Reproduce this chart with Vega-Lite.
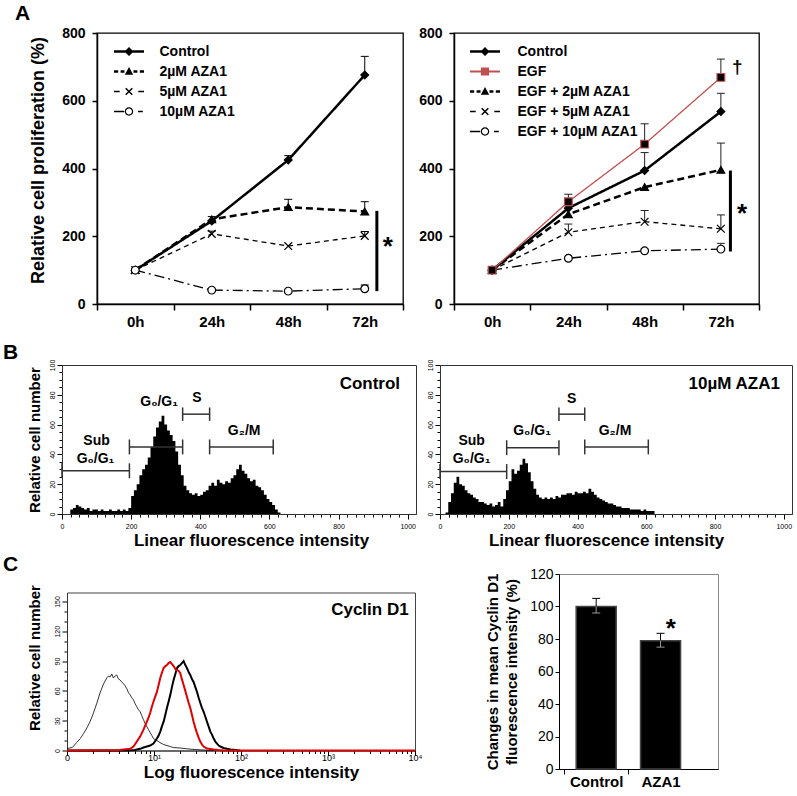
{
"$schema": "https://vega.github.io/schema/vega-lite/v6.json",
"background": "white",
"padding": {"left": 0, "top": 2, "right": 0, "bottom": 0},
"spacing": 0,
"bounds": "full",
"config": {
  "font": "Liberation Sans",
  "view": {"stroke": "#000", "strokeWidth": 1},
  "axis": {"grid": false, "domainColor": "#000", "tickColor": "#000", "labelColor": "#000", "titleColor": "#000", "labelFont": "Liberation Sans", "titleFont": "Liberation Sans", "labelOverlap": false, "labelFlush": false},
  "title": {"font": "Liberation Sans", "color": "#000"},
  "text": {"font": "Liberation Sans", "color": "#000"}
},
"datasets": {
  "al": [
    {"s":"Control","h":0,"v":100,"hi":100},{"s":"Control","h":24,"v":245,"hi":258},{"s":"Control","h":48,"v":425,"hi":438},{"s":"Control","h":72,"v":676,"hi":731},
    {"s":"2µM AZA1","h":0,"v":100,"hi":100},{"s":"2µM AZA1","h":24,"v":250,"hi":250},{"s":"2µM AZA1","h":48,"v":286,"hi":309},{"s":"2µM AZA1","h":72,"v":273,"hi":302},
    {"s":"5µM AZA1","h":0,"v":100,"hi":100},{"s":"5µM AZA1","h":24,"v":207,"hi":215},{"s":"5µM AZA1","h":48,"v":171,"hi":171},{"s":"5µM AZA1","h":72,"v":201,"hi":214},
    {"s":"10µM AZA1","h":0,"v":100,"hi":100},{"s":"10µM AZA1","h":24,"v":41,"hi":41},{"s":"10µM AZA1","h":48,"v":38,"hi":38},{"s":"10µM AZA1","h":72,"v":45,"hi":56}
  ],
  "ar": [
    {"s":"Control","h":0,"v":100,"hi":100},{"s":"Control","h":24,"v":283,"hi":290},{"s":"Control","h":48,"v":394,"hi":447},{"s":"Control","h":72,"v":568,"hi":622},
    {"s":"EGF + 2µM AZA1","h":0,"v":100,"hi":100},{"s":"EGF + 2µM AZA1","h":24,"v":265,"hi":265},{"s":"EGF + 2µM AZA1","h":48,"v":345,"hi":345},{"s":"EGF + 2µM AZA1","h":72,"v":396,"hi":475},
    {"s":"EGF + 5µM AZA1","h":0,"v":100,"hi":100},{"s":"EGF + 5µM AZA1","h":24,"v":212,"hi":236},{"s":"EGF + 5µM AZA1","h":48,"v":243,"hi":276},{"s":"EGF + 5µM AZA1","h":72,"v":222,"hi":263},
    {"s":"EGF + 10µM AZA1","h":0,"v":100,"hi":100},{"s":"EGF + 10µM AZA1","h":24,"v":135,"hi":135},{"s":"EGF + 10µM AZA1","h":48,"v":157,"hi":162},{"s":"EGF + 10µM AZA1","h":72,"v":162,"hi":179},
    {"s":"EGF","h":0,"v":100,"hi":100},{"s":"EGF","h":24,"v":302,"hi":324},{"s":"EGF","h":48,"v":472,"hi":532},{"s":"EGF","h":72,"v":669,"hi":723}
  ],
  "bl": [
    {"x":0,"c":0},{"x":8,"c":0},{"x":16,"c":0},{"x":24,"c":3},{"x":32,"c":4},{"x":40,"c":6},{"x":48,"c":5},{"x":56,"c":4},{"x":64,"c":3},{"x":72,"c":4},
    {"x":80,"c":2},{"x":88,"c":3},{"x":96,"c":3},{"x":104,"c":2},{"x":112,"c":3},{"x":120,"c":2},{"x":128,"c":2},{"x":136,"c":3},{"x":144,"c":2},{"x":152,"c":2},
    {"x":160,"c":3},{"x":168,"c":2},{"x":176,"c":3},{"x":184,"c":2},{"x":192,"c":4},{"x":200,"c":12},{"x":208,"c":16},{"x":216,"c":20},{"x":224,"c":26},{"x":232,"c":30},
    {"x":240,"c":33},{"x":248,"c":38},{"x":256,"c":45},{"x":264,"c":52},{"x":272,"c":58},{"x":280,"c":62},{"x":288,"c":66},{"x":296,"c":60},{"x":304,"c":56},{"x":312,"c":53},
    {"x":320,"c":49},{"x":328,"c":42},{"x":336,"c":33},{"x":344,"c":26},{"x":352,"c":19},{"x":360,"c":16},{"x":368,"c":14},{"x":376,"c":13},{"x":384,"c":14},{"x":392,"c":12},
    {"x":400,"c":13},{"x":408,"c":15},{"x":416,"c":16},{"x":424,"c":19},{"x":432,"c":21},{"x":440,"c":19},{"x":448,"c":23},{"x":456,"c":21},{"x":464,"c":20},{"x":472,"c":22},
    {"x":480,"c":21},{"x":488,"c":24},{"x":496,"c":26},{"x":504,"c":30},{"x":512,"c":33},{"x":520,"c":29},{"x":528,"c":27},{"x":536,"c":24},{"x":544,"c":22},{"x":552,"c":23},
    {"x":560,"c":19},{"x":568,"c":18},{"x":576,"c":16},{"x":584,"c":13},{"x":592,"c":10},{"x":600,"c":8},{"x":608,"c":6},{"x":616,"c":3},{"x":624,"c":1},{"x":632,"c":0}
  ],
  "br": [
    {"x":0,"c":0},{"x":8,"c":0},{"x":16,"c":1},{"x":24,"c":8},{"x":32,"c":14},{"x":40,"c":21},{"x":48,"c":25},{"x":56,"c":20},{"x":64,"c":19},{"x":72,"c":16},
    {"x":80,"c":14},{"x":88,"c":13},{"x":96,"c":11},{"x":104,"c":10},{"x":112,"c":8},{"x":120,"c":8},{"x":128,"c":7},{"x":136,"c":6},{"x":144,"c":7},{"x":152,"c":5},
    {"x":160,"c":6},{"x":168,"c":8},{"x":176,"c":5},{"x":184,"c":10},{"x":192,"c":16},{"x":200,"c":22},{"x":208,"c":30},{"x":216,"c":27},{"x":224,"c":29},{"x":232,"c":33},
    {"x":240,"c":37},{"x":248,"c":34},{"x":256,"c":28},{"x":264,"c":22},{"x":272,"c":17},{"x":280,"c":13},{"x":288,"c":11},{"x":296,"c":10},{"x":304,"c":11},{"x":312,"c":10},
    {"x":320,"c":11},{"x":328,"c":10},{"x":336,"c":12},{"x":344,"c":11},{"x":352,"c":13},{"x":360,"c":13},{"x":368,"c":14},{"x":376,"c":14},{"x":384,"c":13},{"x":392,"c":15},
    {"x":400,"c":14},{"x":408,"c":14},{"x":416,"c":15},{"x":424,"c":14},{"x":432,"c":17},{"x":440,"c":15},{"x":448,"c":13},{"x":456,"c":11},{"x":464,"c":10},{"x":472,"c":9},
    {"x":480,"c":8},{"x":488,"c":7},{"x":496,"c":7},{"x":504,"c":6},{"x":512,"c":5},{"x":520,"c":5},{"x":528,"c":4},{"x":536,"c":4},{"x":544,"c":4},{"x":552,"c":3},
    {"x":560,"c":3},{"x":568,"c":3},{"x":576,"c":3},{"x":584,"c":2},{"x":592,"c":3},{"x":600,"c":2},{"x":608,"c":2},{"x":616,"c":2},{"x":624,"c":0}
  ],
  "cyc": [
    {"s":"iso","x":1,"c":2},{"s":"iso","x":1.15,"c":3},{"s":"iso","x":1.29,"c":8},{"s":"iso","x":1.42,"c":12},{"s":"iso","x":1.55,"c":17},{"s":"iso","x":1.7,"c":23},{"s":"iso","x":1.84,"c":29},{"s":"iso","x":2.0,"c":37},{"s":"iso","x":2.19,"c":47},{"s":"iso","x":2.4,"c":58},{"s":"iso","x":2.63,"c":67},{"s":"iso","x":2.86,"c":73},{"s":"iso","x":3.0,"c":75},{"s":"iso","x":3.13,"c":74},{"s":"iso","x":3.27,"c":77},{"s":"iso","x":3.41,"c":73},{"s":"iso","x":3.57,"c":75},{"s":"iso","x":3.73,"c":76},{"s":"iso","x":3.9,"c":72},{"s":"iso","x":4.07,"c":71},{"s":"iso","x":4.26,"c":69},{"s":"iso","x":4.46,"c":67},{"s":"iso","x":4.67,"c":65},{"s":"iso","x":4.88,"c":62},{"s":"iso","x":5.1,"c":58},{"s":"iso","x":5.32,"c":56},{"s":"iso","x":5.56,"c":53},{"s":"iso","x":5.81,"c":51},{"s":"iso","x":6.07,"c":47},{"s":"iso","x":6.35,"c":44},{"s":"iso","x":6.63,"c":41},{"s":"iso","x":6.93,"c":39},{"s":"iso","x":7.24,"c":35},{"s":"iso","x":7.57,"c":31},{"s":"iso","x":7.92,"c":27},{"s":"iso","x":8.28,"c":24},{"s":"iso","x":8.65,"c":21},{"s":"iso","x":9.04,"c":18},{"s":"iso","x":9.45,"c":15},{"s":"iso","x":9.86,"c":12},{"s":"iso","x":10.8,"c":10},{"s":"iso","x":11.7,"c":8},{"s":"iso","x":12.9,"c":6},{"s":"iso","x":14.1,"c":5},{"s":"iso","x":15.4,"c":4},{"s":"iso","x":16.6,"c":3},{"s":"iso","x":20,"c":2.5},{"s":"iso","x":24,"c":1.7},{"s":"iso","x":29,"c":1},{"s":"iso","x":34,"c":0.7},{"s":"iso","x":40,"c":0.3},{"s":"iso","x":50,"c":0},
    {"s":"ctl","x":1,"c":0},{"s":"ctl","x":5,"c":0},{"s":"ctl","x":6,"c":0.5},{"s":"ctl","x":6.93,"c":1.7},{"s":"ctl","x":7.57,"c":3},{"s":"ctl","x":8.28,"c":4},{"s":"ctl","x":9.04,"c":5},{"s":"ctl","x":9.86,"c":7},{"s":"ctl","x":10.8,"c":12},{"s":"ctl","x":11.3,"c":15},{"s":"ctl","x":11.8,"c":19},{"s":"ctl","x":12.3,"c":24},{"s":"ctl","x":12.9,"c":29},{"s":"ctl","x":13.5,"c":36},{"s":"ctl","x":14.1,"c":43},{"s":"ctl","x":14.7,"c":49},{"s":"ctl","x":15.4,"c":56},{"s":"ctl","x":16.1,"c":64},{"s":"ctl","x":16.8,"c":71},{"s":"ctl","x":17.6,"c":77},{"s":"ctl","x":18.4,"c":83},{"s":"ctl","x":19.2,"c":85},{"s":"ctl","x":20,"c":86},{"s":"ctl","x":20.9,"c":88},{"s":"ctl","x":21.9,"c":90},{"s":"ctl","x":22.9,"c":86},{"s":"ctl","x":23.9,"c":83},{"s":"ctl","x":25,"c":79},{"s":"ctl","x":26.1,"c":76},{"s":"ctl","x":27.3,"c":72},{"s":"ctl","x":28.5,"c":69},{"s":"ctl","x":29.8,"c":64},{"s":"ctl","x":31.2,"c":59},{"s":"ctl","x":32.6,"c":53},{"s":"ctl","x":34,"c":48},{"s":"ctl","x":35.6,"c":43},{"s":"ctl","x":37.2,"c":39},{"s":"ctl","x":38.9,"c":34},{"s":"ctl","x":40.6,"c":29},{"s":"ctl","x":42.5,"c":24},{"s":"ctl","x":44.4,"c":19},{"s":"ctl","x":46.4,"c":16},{"s":"ctl","x":48.5,"c":12},{"s":"ctl","x":50.7,"c":9},{"s":"ctl","x":53,"c":7},{"s":"ctl","x":55.4,"c":5},{"s":"ctl","x":57.9,"c":4},{"s":"ctl","x":63,"c":2.5},{"s":"ctl","x":69,"c":1.7},{"s":"ctl","x":76,"c":1},{"s":"ctl","x":82,"c":0.7},{"s":"ctl","x":90,"c":0.3},{"s":"ctl","x":98,"c":0},
    {"s":"aza","x":1,"c":0},{"s":"aza","x":2,"c":0.3},{"s":"aza","x":4,"c":0.5},{"s":"aza","x":5.32,"c":1.7},{"s":"aza","x":5.81,"c":4},{"s":"aza","x":6.35,"c":9},{"s":"aza","x":6.93,"c":14},{"s":"aza","x":7.57,"c":21},{"s":"aza","x":8.28,"c":29},{"s":"aza","x":8.65,"c":33},{"s":"aza","x":9.04,"c":38},{"s":"aza","x":9.45,"c":44},{"s":"aza","x":9.86,"c":49},{"s":"aza","x":10.3,"c":54},{"s":"aza","x":10.8,"c":59},{"s":"aza","x":11.3,"c":66},{"s":"aza","x":11.8,"c":73},{"s":"aza","x":12.3,"c":78},{"s":"aza","x":12.9,"c":83},{"s":"aza","x":13.5,"c":85},{"s":"aza","x":14.1,"c":86},{"s":"aza","x":14.7,"c":88},{"s":"aza","x":15.4,"c":89},{"s":"aza","x":16.1,"c":87},{"s":"aza","x":16.8,"c":85},{"s":"aza","x":17.6,"c":82},{"s":"aza","x":18.4,"c":81},{"s":"aza","x":19.2,"c":80},{"s":"aza","x":20,"c":78},{"s":"aza","x":20.9,"c":72},{"s":"aza","x":21.9,"c":66},{"s":"aza","x":22.9,"c":60},{"s":"aza","x":23.9,"c":54},{"s":"aza","x":25,"c":48},{"s":"aza","x":26.1,"c":43},{"s":"aza","x":27.3,"c":36},{"s":"aza","x":28.5,"c":29},{"s":"aza","x":29.8,"c":23},{"s":"aza","x":31.2,"c":17.5},{"s":"aza","x":32.6,"c":13},{"s":"aza","x":34,"c":9},{"s":"aza","x":35.6,"c":6},{"s":"aza","x":37.2,"c":4},{"s":"aza","x":38.9,"c":3},{"s":"aza","x":40.6,"c":2},{"s":"aza","x":44.4,"c":1.5},{"s":"aza","x":48.5,"c":1},{"s":"aza","x":55,"c":0.5},{"s":"aza","x":65,"c":0},{"s":"aza","x":10000,"c":0}
  ],
  "bar": [
    {"n":1,"g":"Control","v":100,"hi":105,"lo":96},
    {"n":2,"g":"AZA1","v":79,"hi":83.5,"lo":75}
  ]
},
"vconcat": [
 {
  "hconcat": [
  {"width": 73, "height": 308, "data": {"values": []}, "mark": "point", "view": {"stroke": null}},
  {
    "width": 306, "height": 271,
    "view": {"stroke": "#000", "strokeWidth": 1.3},
    "title": {"text": "A", "anchor": "start", "frame": "group", "dx": -82, "fontSize": 21, "fontWeight": "bold", "offset": 2},
    "data": {"name": "al"},
    "encoding": {
      "x": {"field": "h", "type": "quantitative", "scale": {"domain": [-12, 84], "nice": false, "zero": false},
            "axis": {"values": [-12,0,12,24,36,48,60,72,84], "labelExpr": "datum.value % 24 === 0 ? datum.value + 'h' : ''",
                     "tickSize": {"condition": {"test": "datum.value % 24 === 0", "value": 0}, "value": 6},
                     "labelFontSize": 15, "labelFontWeight": "bold", "labelPadding": 10, "title": null, "domainWidth": 1.5, "tickWidth": 1.5}},
      "y": {"field": "v", "type": "quantitative", "scale": {"domain": [0, 800], "nice": false},
            "axis": {"values": [0,200,400,600,800], "tickSize": 5, "tickWidth": 1.5, "domainWidth": 1.5, "labelFontSize": 14, "labelFontWeight": "bold", "labelPadding": 7,
                     "title": "Relative cell proliferation (%)", "titleFontSize": 18, "titleFontWeight": "bold", "titlePadding": 14, "titleY": 127}}
    },
    "layer": [
      {"mark": {"type": "line", "color": "#000"},
       "encoding": {"detail": {"field": "s"},
         "strokeDash": {"field": "s", "type": "nominal", "scale": {"domain": ["Control","2µM AZA1","5µM AZA1","10µM AZA1"], "range": [[1,0],[7,4],[5,4],[10,4,2,4]]}, "legend": null},
         "strokeWidth": {"condition": {"test": "datum.s === 'Control' || datum.s === '2µM AZA1'", "value": 2.5}, "value": 1.3}}},
      {"transform": [{"filter": "datum.hi > datum.v"}], "mark": {"type": "rule", "color": "#000", "strokeWidth": 1}, "encoding": {"y2": {"field": "hi"}}},
      {"transform": [{"filter": "datum.hi > datum.v"}], "mark": {"type": "point", "shape": "M-1,0L1,0", "size": 64, "filled": false, "opacity": 1, "color": "#000", "strokeWidth": 1}, "encoding": {"y": {"field": "hi", "type": "quantitative"}}},
      {"mark": {"type": "point", "size": 60, "opacity": 1, "strokeWidth": 1.2, "stroke": "#000"},
       "encoding": {
         "shape": {"field": "s", "type": "nominal", "scale": {"domain": ["Control","2µM AZA1","5µM AZA1","10µM AZA1"], "range": ["diamond","triangle-up","M-1,-1L1,1M-1,1L1,-1","circle"]}, "legend": null},
         "fill": {"field": "s", "type": "nominal", "scale": {"domain": ["Control","2µM AZA1","5µM AZA1","10µM AZA1"], "range": ["#000","#000","#000","#fff"]}, "legend": null}}},
      {"mark": {"type": "point", "opacity": 0, "filled": true},
       "encoding": {
         "shape": {"field": "s", "type": "nominal",
           "scale": {"domain": ["Control","2µM AZA1","5µM AZA1","10µM AZA1"],
                     "range": ["M-2,-0.166L2,-0.166L2,0.166L-2,0.166ZM0,-0.6L0.6,0L0,0.6L-0.6,0Z",
                               "M-2,-0.166L-1.44,-0.166L-1.44,0.166L-2,0.166ZM-1.12,-0.166L-0.6,-0.166L-0.6,0.166L-1.12,0.166ZM0.6,-0.166L1.12,-0.166L1.12,0.166L0.6,0.166ZM1.44,-0.166L2,-0.166L2,0.166L1.44,0.166ZM0,-0.6L0.56,0.44L-0.56,0.44Z",
                               "M-2,-0.09L-1.24,-0.09L-1.24,0.09L-2,0.09ZM1.24,-0.09L2,-0.09L2,0.09L1.24,0.09ZM-0.37,-0.51L0.51,0.37L0.37,0.51L-0.51,-0.37ZM-0.51,0.37L0.37,-0.51L0.51,-0.37L-0.37,0.51Z",
                               "M-2,-0.09L-0.64,-0.09L-0.64,0.09L-2,0.09ZM1.2,-0.09L1.84,-0.09L1.84,0.09L1.2,0.09ZM0.56,0A0.56,0.56,0,1,1,-0.56,0A0.56,0.56,0,1,1,0.56,0ZM0.4,0A0.4,0.4,0,1,0,-0.4,0A0.4,0.4,0,1,0,0.4,0Z"]},
           "legend": {"title": null, "orient": "none", "legendX": 17, "legendY": 11, "symbolSize": 225, "symbolOffset": 7.5, "labelFontSize": 14, "labelFontWeight": "bold", "labelFont": "Liberation Sans", "labelColor": "#000", "labelOffset": 23, "rowPadding": 5, "padding": 0, "symbolOpacity": 1, "symbolStrokeWidth": 0}},
         "color": {"field": "s", "type": "nominal",
           "scale": {"domain": ["Control","2µM AZA1","5µM AZA1","10µM AZA1"], "range": ["#000","#000","#000","#000"]},
           "legend": {"title": null, "orient": "none", "legendX": 17, "legendY": 11, "symbolSize": 225, "symbolOffset": 7.5, "labelFontSize": 14, "labelFontWeight": "bold", "labelFont": "Liberation Sans", "labelColor": "#000", "labelOffset": 23, "rowPadding": 5, "padding": 0, "symbolOpacity": 1, "symbolStrokeWidth": 0}}}},
      {"data": {"values": [{"h": 75.8, "v": 38, "v2": 275}]}, "mark": {"type": "rule", "color": "#000", "strokeWidth": 3}, "encoding": {"y2": {"field": "v2"}}},
      {"data": {"values": [{"h": 79.2, "v": 146, "t": "*"}]}, "mark": {"type": "text", "fontSize": 26, "fontWeight": "bold", "baseline": "alphabetic", "align": "center"}, "encoding": {"text": {"field": "t"}}}
    ],
    "resolve": {"scale": {"shape": "independent", "color": "independent"}}
  },
  {"width": 3, "height": 1, "data": {"values": []}, "mark": "point", "view": {"stroke": null}},
  {
    "width": 305, "height": 271,
    "view": {"stroke": "#000", "strokeWidth": 1.3},
    "data": {"name": "ar"},
    "encoding": {
      "x": {"field": "h", "type": "quantitative", "scale": {"domain": [-12, 84], "nice": false, "zero": false},
            "axis": {"values": [-12,0,12,24,36,48,60,72,84], "labelExpr": "datum.value % 24 === 0 ? datum.value + 'h' : ''",
                     "tickSize": {"condition": {"test": "datum.value % 24 === 0", "value": 0}, "value": 6},
                     "labelFontSize": 15, "labelFontWeight": "bold", "labelPadding": 10, "title": null, "domainWidth": 1.5, "tickWidth": 1.5}},
      "y": {"field": "v", "type": "quantitative", "scale": {"domain": [0, 800], "nice": false},
            "axis": {"values": [0,200,400,600,800], "tickSize": 5, "tickWidth": 1.5, "domainWidth": 1.5, "labelFontSize": 14, "labelFontWeight": "bold", "labelPadding": 7, "title": null}}
    },
    "layer": [
      {"mark": {"type": "line"},
       "encoding": {"detail": {"field": "s"},
         "stroke": {"field": "s", "type": "nominal", "scale": {"domain": ["Control","EGF","EGF + 2µM AZA1","EGF + 5µM AZA1","EGF + 10µM AZA1"], "range": ["#000","#c0504d","#000","#000","#000"]}, "legend": null},
         "strokeDash": {"field": "s", "type": "nominal", "scale": {"domain": ["Control","EGF","EGF + 2µM AZA1","EGF + 5µM AZA1","EGF + 10µM AZA1"], "range": [[1,0],[1,0],[7,4],[5,4],[10,4,2,4]]}, "legend": null},
         "strokeWidth": {"condition": {"test": "datum.s === 'Control' || datum.s === 'EGF + 2µM AZA1'", "value": 2.5}, "value": 1.3}}},
      {"transform": [{"filter": "datum.hi > datum.v"}], "mark": {"type": "rule", "color": "#222", "strokeWidth": 1}, "encoding": {"y2": {"field": "hi"}}},
      {"transform": [{"filter": "datum.hi > datum.v"}], "mark": {"type": "point", "shape": "M-1,0L1,0", "size": 64, "filled": false, "opacity": 1, "color": "#222", "strokeWidth": 1}, "encoding": {"y": {"field": "hi", "type": "quantitative"}}},
      {"mark": {"type": "point", "size": 60, "opacity": 1, "strokeWidth": 1.2},
       "encoding": {
         "shape": {"field": "s", "type": "nominal", "scale": {"domain": ["Control","EGF","EGF + 2µM AZA1","EGF + 5µM AZA1","EGF + 10µM AZA1"], "range": ["diamond","square","triangle-up","M-1,-1L1,1M-1,1L1,-1","circle"]}, "legend": null},
         "fill": {"field": "s", "type": "nominal", "scale": {"domain": ["Control","EGF","EGF + 2µM AZA1","EGF + 5µM AZA1","EGF + 10µM AZA1"], "range": ["#000","#c0504d","#000","#000","#fff"]}, "legend": null},
         "stroke": {"field": "s", "type": "nominal", "legend": null}}},
      {"mark": {"type": "point", "opacity": 0, "filled": true},
       "encoding": {
         "shape": {"field": "s", "type": "nominal",
           "scale": {"domain": ["Control","EGF","EGF + 2µM AZA1","EGF + 5µM AZA1","EGF + 10µM AZA1"],
                     "range": ["M-2,-0.166L2,-0.166L2,0.166L-2,0.166ZM0,-0.6L0.6,0L0,0.6L-0.6,0Z",
                               "M-2,-0.14L2,-0.14L2,0.14L-2,0.14ZM-0.54,-0.54L0.54,-0.54L0.54,0.54L-0.54,0.54Z",
                               "M-2,-0.166L-1.44,-0.166L-1.44,0.166L-2,0.166ZM-1.12,-0.166L-0.6,-0.166L-0.6,0.166L-1.12,0.166ZM0.6,-0.166L1.12,-0.166L1.12,0.166L0.6,0.166ZM1.44,-0.166L2,-0.166L2,0.166L1.44,0.166ZM0,-0.6L0.56,0.44L-0.56,0.44Z",
                               "M-2,-0.09L-1.24,-0.09L-1.24,0.09L-2,0.09ZM1.24,-0.09L2,-0.09L2,0.09L1.24,0.09ZM-0.37,-0.51L0.51,0.37L0.37,0.51L-0.51,-0.37ZM-0.51,0.37L0.37,-0.51L0.51,-0.37L-0.37,0.51Z",
                               "M-2,-0.09L-0.64,-0.09L-0.64,0.09L-2,0.09ZM1.2,-0.09L1.84,-0.09L1.84,0.09L1.2,0.09ZM0.56,0A0.56,0.56,0,1,1,-0.56,0A0.56,0.56,0,1,1,0.56,0ZM0.4,0A0.4,0.4,0,1,0,-0.4,0A0.4,0.4,0,1,0,0.4,0Z"]},
           "legend": {"title": null, "orient": "none", "legendX": 16, "legendY": 11, "symbolSize": 225, "symbolOffset": 7.5, "labelFontSize": 14, "labelFontWeight": "bold", "labelFont": "Liberation Sans", "labelColor": "#000", "labelOffset": 25, "rowPadding": 5, "padding": 0, "symbolOpacity": 1, "symbolStrokeWidth": 0}},
         "color": {"field": "s", "type": "nominal",
           "scale": {"domain": ["Control","EGF","EGF + 2µM AZA1","EGF + 5µM AZA1","EGF + 10µM AZA1"], "range": ["#000","#c0504d","#000","#000","#000"]},
           "legend": {"title": null, "orient": "none", "legendX": 16, "legendY": 11, "symbolSize": 225, "symbolOffset": 7.5, "labelFontSize": 14, "labelFontWeight": "bold", "labelFont": "Liberation Sans", "labelColor": "#000", "labelOffset": 25, "rowPadding": 5, "padding": 0, "symbolOpacity": 1, "symbolStrokeWidth": 0}}}},
      {"data": {"values": [{"h": 75, "v": 155, "v2": 394}]}, "mark": {"type": "rule", "color": "#000", "strokeWidth": 3}, "encoding": {"y2": {"field": "v2"}}},
      {"data": {"values": [{"h": 78.7, "v": 242, "t": "*"}]}, "mark": {"type": "text", "fontSize": 26, "fontWeight": "bold", "baseline": "alphabetic", "align": "center"}, "encoding": {"text": {"field": "t"}}},
      {"data": {"values": [{"h": 77.2, "v": 682, "t": "†"}]}, "mark": {"type": "text", "fontSize": 19, "fontWeight": "bold", "baseline": "alphabetic", "align": "center"}, "encoding": {"text": {"field": "t"}}}
    ],
    "resolve": {"scale": {"shape": "independent", "color": "independent"}}
  }
  ],
  "bounds": "flush", "spacing": 24
 },
 {
  "hconcat": [
  {"width": 38, "height": 188, "data": {"values": []}, "mark": "point", "view": {"stroke": null}},
  {
    "width": 354, "height": 149,
    "view": {"stroke": "#333"},
    "title": {"text": "B", "anchor": "start", "frame": "group", "dx": -59, "fontSize": 21, "fontWeight": "bold", "offset": -4},
    "data": {"name": "bl"},
    "encoding": {
      "x": {"field": "x", "type": "quantitative", "scale": {"domain": [0, 1024], "nice": false},
            "axis": {"values": [0,25,50,75,100,125,150,175,200,225,250,275,300,325,350,375,400,425,450,475,500,525,550,575,600,625,650,675,700,725,750,775,800,825,850,875,900,925,950,975,1000],
                     "format": "d", "labelExpr": "datum.value % 200 === 0 ? datum.label : ''",
                     "tickSize": {"condition": {"test": "datum.value % 200 === 0", "value": 5}, "value": 3},
                     "labelFontSize": 7, "labelPadding": 3, "domainColor": "#333",
                     "title": "Linear fluorescence intensity", "titleFontSize": 17, "titleFontWeight": "bold", "titlePadding": 3, "titleX": 189}},
      "y": {"field": "c", "type": "quantitative", "scale": {"domain": [0, 100], "nice": false},
            "axis": {"values": [0,5,10,15,20,25,30,35,40,45,50,55,60,65,70,75,80,85,90,95,100],
                     "labelExpr": "datum.value % 20 === 0 ? datum.label : ''",
                     "tickSize": {"condition": {"test": "datum.value % 20 === 0", "value": 5}, "value": 3},
                     "labelFontSize": 7, "labelAngle": 270, "labelPadding": 2, "domainColor": "#333",
                     "title": "Relative cell number", "titleFontSize": 15, "titleFontWeight": "bold", "titlePadding": 5.5}}
    },
    "layer": [
      {"mark": {"type": "area", "interpolate": "step-after", "color": "#000"}},
      {"data": {"values": [{"x":0,"x2":195,"c":29},{"x":195,"x2":349,"c":45},{"x":349,"x2":427,"c":67},{"x":427,"x2":611,"c":45}]},
       "mark": {"type": "rule", "color": "#333", "strokeWidth": 1.5}, "encoding": {"x2": {"field": "x2"}}},
      {"data": {"values": [{"x":0,"c":24,"c2":34},{"x":195,"c":24,"c2":34},{"x":195,"c":40,"c2":50},{"x":349,"c":40,"c2":50},{"x":349,"c":62.5,"c2":71.5},{"x":427,"c":62.5,"c2":71.5},{"x":427,"c":40,"c2":50},{"x":611,"c":40,"c2":50}]},
       "mark": {"type": "rule", "color": "#333", "strokeWidth": 1.5}, "encoding": {"y2": {"field": "c2"}}},
      {"data": {"values": [{"x":100,"c":49,"t":"Sub"},{"x":97,"c":37,"t":"G₀/G₁"},{"x":281,"c":75,"t":"G₀/G₁"},{"x":390,"c":78,"t":"S"},{"x":527,"c":56,"t":"G₂/M"}]},
       "mark": {"type": "text", "fontSize": 14, "fontWeight": "bold", "baseline": "middle", "align": "center"}, "encoding": {"text": {"field": "t"}}},
      {"data": {"values": [{"x": 978, "c": 87, "t": "Control"}]},
       "mark": {"type": "text", "fontSize": 17, "fontWeight": "bold", "baseline": "middle", "align": "right"}, "encoding": {"text": {"field": "t"}}}
    ]
  },
  {
    "width": 352, "height": 149,
    "view": {"stroke": "#333"},
    "data": {"name": "br"},
    "encoding": {
      "x": {"field": "x", "type": "quantitative", "scale": {"domain": [0, 1024], "nice": false},
            "axis": {"values": [0,25,50,75,100,125,150,175,200,225,250,275,300,325,350,375,400,425,450,475,500,525,550,575,600,625,650,675,700,725,750,775,800,825,850,875,900,925,950,975,1000],
                     "format": "d", "labelExpr": "datum.value % 200 === 0 ? datum.label : ''",
                     "tickSize": {"condition": {"test": "datum.value % 200 === 0", "value": 5}, "value": 3},
                     "labelFontSize": 7, "labelPadding": 3, "domainColor": "#333",
                     "title": "Linear fluorescence intensity", "titleFontSize": 17, "titleFontWeight": "bold", "titlePadding": 3, "titleX": 166}},
      "y": {"field": "c", "type": "quantitative", "scale": {"domain": [0, 100], "nice": false},
            "axis": {"values": [0,5,10,15,20,25,30,35,40,45,50,55,60,65,70,75,80,85,90,95,100],
                     "labelExpr": "datum.value % 20 === 0 ? datum.label : ''",
                     "tickSize": {"condition": {"test": "datum.value % 20 === 0", "value": 5}, "value": 3},
                     "labelFontSize": 7, "labelAngle": 270, "labelPadding": 2, "domainColor": "#333", "title": null}}
    },
    "layer": [
      {"mark": {"type": "area", "interpolate": "step-after", "color": "#000"}},
      {"data": {"values": [{"x":0,"x2":194,"c":28.5},{"x":194,"x2":346,"c":44.5},{"x":346,"x2":421,"c":67},{"x":421,"x2":606,"c":45}]},
       "mark": {"type": "rule", "color": "#333", "strokeWidth": 1.5}, "encoding": {"x2": {"field": "x2"}}},
      {"data": {"values": [{"x":0,"c":23.5,"c2":33.5},{"x":194,"c":23.5,"c2":33.5},{"x":194,"c":39.5,"c2":49.5},{"x":346,"c":39.5,"c2":49.5},{"x":346,"c":62.5,"c2":71.5},{"x":421,"c":62.5,"c2":71.5},{"x":421,"c":40,"c2":50},{"x":606,"c":40,"c2":50}]},
       "mark": {"type": "rule", "color": "#333", "strokeWidth": 1.5}, "encoding": {"y2": {"field": "c2"}}},
      {"data": {"values": [{"x":92,"c":49,"t":"Sub"},{"x":92,"c":37,"t":"G₀/G₁"},{"x":268,"c":56,"t":"G₀/G₁"},{"x":383,"c":77,"t":"S"},{"x":509,"c":56,"t":"G₂/M"}]},
       "mark": {"type": "text", "fontSize": 14, "fontWeight": "bold", "baseline": "middle", "align": "center"}, "encoding": {"text": {"field": "t"}}},
      {"data": {"values": [{"x": 989, "c": 87, "t": "10µM AZA1"}]},
       "mark": {"type": "text", "fontSize": 17, "fontWeight": "bold", "baseline": "middle", "align": "right"}, "encoding": {"text": {"field": "t"}}}
    ]
  }
  ],
  "bounds": "flush", "spacing": 24
 },
 {
  "hconcat": [
  {"width": 43, "height": 195, "data": {"values": []}, "mark": "point", "view": {"stroke": null}},
  {
    "width": 348, "height": 158,
    "view": {"stroke": "#444"},
    "title": {"text": "C", "anchor": "start", "frame": "group", "dx": -64, "fontSize": 21, "fontWeight": "bold", "offset": 10},
    "data": {"name": "cyc"},
    "encoding": {
      "x": {"field": "x", "type": "quantitative", "scale": {"type": "log", "domain": [1, 10000], "nice": false},
            "axis": {"values": [1,2,3,4,5,6,7,8,9,10,20,30,40,50,60,70,80,90,100,200,300,400,500,600,700,800,900,1000,2000,3000,4000,5000,6000,7000,8000,9000,10000],
                     "labelExpr": "datum.value === 1 ? '0' : datum.value === 10 ? '10¹' : datum.value === 100 ? '10²' : datum.value === 1000 ? '10³' : datum.value === 10000 ? '10⁴' : ''",
                     "tickSize": {"condition": {"test": "indexof([1,10,100,1000,10000], datum.value) >= 0", "value": 5}, "value": 3},
                     "labelFontSize": 9, "labelPadding": -2, "domainColor": "#333",
                     "title": "Log fluorescence intensity", "titleFontSize": 17, "titleFontWeight": "bold", "titlePadding": 2, "titleX": 184}},
      "y": {"field": "c", "type": "quantitative", "scale": {"domain": [0, 159], "nice": false},
            "axis": {"values": [0,10,20,30,40,50,60,70,80,90,100,110,120,130,140,150],
                     "labelExpr": "datum.value % 30 === 0 ? datum.label : ''",
                     "tickSize": {"condition": {"test": "datum.value % 30 === 0", "value": 5}, "value": 3},
                     "labelFontSize": 7, "labelAngle": 270, "labelPadding": 2, "domainColor": "#333",
                     "title": "Relative cell number", "titleFontSize": 15, "titleFontWeight": "bold", "titlePadding": 11, "titleY": 65}}
    },
    "layer": [
      {"mark": {"type": "line"},
       "encoding": {
         "detail": {"field": "s"},
         "stroke": {"condition": {"test": "datum.s === 'aza'", "value": "#e00000"}, "value": "#000"},
         "strokeWidth": {"condition": {"test": "datum.s === 'iso'", "value": 0.8}, "value": 2}}},
      {"data": {"values": [{"x": 8450, "c": 141, "t": "Cyclin D1"}]},
       "mark": {"type": "text", "fontSize": 17, "fontWeight": "bold", "baseline": "middle", "align": "right"}, "encoding": {"text": {"field": "t"}}}
    ]
  },
  {"width": 96, "height": 195, "data": {"values": []}, "mark": "point", "view": {"stroke": null}},
  {
    "width": 159, "height": 195,
    "view": {"stroke": "#888"},
    "data": {"name": "bar"},
    "encoding": {
      "x": {"field": "n", "type": "quantitative", "scale": {"domain": [0.5, 2.815], "nice": false, "zero": false},
            "axis": {"values": [0.5, 1, 1.5, 2], "labelExpr": "datum.value === 1 ? 'Control' : datum.value === 2 ? 'AZA1' : ''",
                     "tickSize": {"condition": {"test": "datum.value % 1 === 0", "value": 0}, "value": 5},
                     "labelFontSize": 15, "labelFontWeight": "bold", "labelPadding": 5, "title": null}},
      "y": {"field": "v", "type": "quantitative", "scale": {"domain": [0, 120], "nice": false},
            "axis": {"values": [0,20,40,60,80,100,120], "tickSize": 4, "labelFontSize": 14, "labelPadding": 2,
                     "title": ["Changes in mean Cyclin D1", "fluorescence intensity (%)"], "titleFontSize": 15, "titleFontWeight": "bold", "titleLineHeight": 19, "titlePadding": 10}}
    },
    "layer": [
      {"mark": {"type": "bar", "orient": "vertical", "width": 40, "color": "#000", "stroke": "#444", "strokeWidth": 1.5}},
      {"mark": {"type": "rule", "color": "#000"}, "encoding": {"y2": {"field": "hi"}}},
      {"mark": {"type": "rule", "color": "#999"}, "encoding": {"y": {"field": "lo", "type": "quantitative"}, "y2": {"field": "v"}}},
      {"mark": {"type": "point", "shape": "M-1,0L1,0", "size": 64, "filled": false, "opacity": 1, "color": "#000", "strokeWidth": 1}, "encoding": {"y": {"field": "hi", "type": "quantitative"}}},
      {"mark": {"type": "point", "shape": "M-1,0L1,0", "size": 64, "filled": false, "opacity": 1, "color": "#999", "strokeWidth": 1}, "encoding": {"y": {"field": "lo", "type": "quantitative"}}},
      {"data": {"values": [{"n": 2.16, "v": 81.5, "t": "*"}]}, "mark": {"type": "text", "fontSize": 26, "fontWeight": "bold", "baseline": "alphabetic", "align": "center"}, "encoding": {"text": {"field": "t"}}}
    ]
  }
  ],
  "bounds": "flush", "spacing": 24, "center": true
 }
]
}
